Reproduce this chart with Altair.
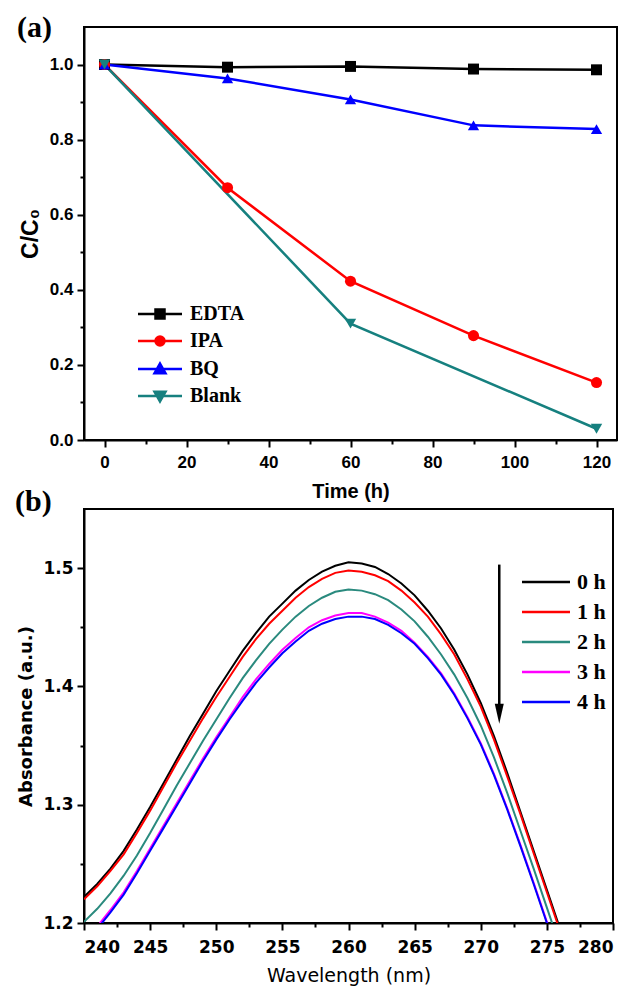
import altair as alt
import pandas as pd

# ---------------- Panel labels ----------------
panel_labels = ["(a)", "(b)"]

# ---------------- Panel (a) data ----------------
series_a = ["EDTA", "IPA", "BQ", "Blank"]
colors_a = ["#000000", "#FF0000", "#0000FF", "#16807F"]
time_h = [0, 30, 60, 90, 120]
edta = [1.000, 0.993, 0.995, 0.988, 0.986]
ipa = [1.000, 0.672, 0.423, 0.278, 0.153]
bq = [1.000, 0.963, 0.907, 0.838, 0.828]
blank_time = [0, 60, 120]
blank = [1.000, 0.310, 0.030]

# ---------------- Panel (b) data ----------------
series_b = ["0 h", "1 h", "2 h", "3 h", "4 h"]
colors_b = ["#000000", "#FF0000", "#2A8A7E", "#FF00FF", "#0000FF"]
wavelength = list(range(240, 277))
abs_0h = [1.222, 1.233, 1.246, 1.261, 1.279, 1.298, 1.318, 1.338, 1.358, 1.377,
          1.396, 1.413, 1.430, 1.445, 1.459, 1.470, 1.481, 1.490, 1.497, 1.502,
          1.505, 1.504, 1.501, 1.495, 1.487, 1.477, 1.464, 1.449, 1.431, 1.410,
          1.386, 1.358, 1.327, 1.294, 1.261, 1.228, 1.195]
abs_1h = [1.220, 1.231, 1.244, 1.258, 1.276, 1.295, 1.315, 1.335, 1.354, 1.373,
          1.391, 1.408, 1.425, 1.440, 1.453, 1.464, 1.475, 1.484, 1.491, 1.496,
          1.498, 1.497, 1.494, 1.489, 1.481, 1.471, 1.459, 1.444, 1.427, 1.406,
          1.383, 1.355, 1.324, 1.292, 1.259, 1.226, 1.193]
abs_2h = [1.201, 1.212, 1.225, 1.240, 1.257, 1.276, 1.296, 1.316, 1.335, 1.354,
          1.372, 1.390, 1.407, 1.422, 1.436, 1.448, 1.459, 1.468, 1.475, 1.480,
          1.482, 1.481, 1.478, 1.473, 1.465, 1.455, 1.442, 1.427, 1.410, 1.390,
          1.367, 1.340, 1.310, 1.278, 1.246, 1.213, 1.180]
abs_3h = [1.183, 1.197, 1.211, 1.226, 1.244, 1.263, 1.282, 1.301, 1.320, 1.339,
          1.357, 1.374, 1.391, 1.406, 1.419, 1.431, 1.441, 1.450, 1.456, 1.460,
          1.462, 1.462, 1.459, 1.454, 1.447, 1.437, 1.425, 1.411, 1.394, 1.374,
          1.352, 1.326, 1.297, 1.266, 1.234, 1.201, 1.168]
abs_4h = [1.181, 1.195, 1.209, 1.224, 1.242, 1.261, 1.280, 1.299, 1.318, 1.337,
          1.355, 1.372, 1.388, 1.403, 1.416, 1.428, 1.438, 1.447, 1.453, 1.457,
          1.459, 1.459, 1.457, 1.452, 1.445, 1.436, 1.424, 1.410, 1.393, 1.373,
          1.351, 1.325, 1.296, 1.265, 1.233, 1.200, 1.167]

# arrow annotation in panel (b)
arrow_x = [271.4]
arrow_y = [1.503]
arrow_y2 = [1.384]
arrowhead_y = [1.377]

# ticks
x_ticks_a = [0, 10, 20, 30, 40, 50, 60, 70, 80, 90, 100, 110, 120]
y_ticks_a = [0.0, 0.1, 0.2, 0.3, 0.4, 0.5, 0.6, 0.7, 0.8, 0.9, 1.0]
x_ticks_b = [240, 242.5, 245, 247.5, 250, 252.5, 255, 257.5, 260, 262.5, 265,
             267.5, 270, 272.5, 275, 277.5, 280]
y_ticks_b = [1.2, 1.25, 1.3, 1.35, 1.4, 1.45, 1.5]

# legend symbols: line through marker (custom paths)
legend_paths_a = [
    "M-4.4,0H4.4M-0.9,-0.9H0.9V0.9H-0.9ZM-0.5,-0.5H0.5V0.5H-0.5ZM-0.1,-0.1H0.1V0.1H-0.1Z",
    "M-4.4,0H4.4M0.9,0A0.9,0.9,0,1,1,-0.9,0A0.9,0.9,0,1,1,0.9,0ZM0.5,0A0.5,0.5,0,1,1,-0.5,0A0.5,0.5,0,1,1,0.5,0ZM0.1,0A0.1,0.1,0,1,1,-0.1,0A0.1,0.1,0,1,1,0.1,0Z",
    "M-4.4,0H4.4M0,-1.1L1.1,0.85L-1.1,0.85ZM0,-0.55L0.6,0.5L-0.6,0.5ZM0,-0.1L0.15,0.2L-0.15,0.2Z",
    "M-4.4,0H4.4M0,1.1L1.1,-0.85L-1.1,-0.85ZM0,0.55L0.6,-0.5L-0.6,-0.5ZM0,0.1L0.15,-0.2L-0.15,-0.2Z",
]
marker_shapes_a = ["square", "circle", "triangle-up", "triangle-down"]
marker_sizes_a = [120, 130, 190, 190]

rows_a = []
for name, ts, vs in [("EDTA", time_h, edta), ("IPA", time_h, ipa),
                     ("BQ", time_h, bq), ("Blank", blank_time, blank)]:
    for t, v in zip(ts, vs):
        rows_a.append({"series": name, "t": t, "c": v})
df_a = pd.DataFrame(rows_a)

rows_b = []
for name, vals in zip(series_b, [abs_0h, abs_1h, abs_2h, abs_3h, abs_4h]):
    for w, v in zip(wavelength, vals):
        rows_b.append({"series": name, "w": w, "a": v})
df_b = pd.DataFrame(rows_b)

df_arrow = pd.DataFrame({"w": arrow_x, "a": arrow_y, "a2": arrow_y2, "ah": arrowhead_y})

LABEL_FONT = "Liberation Sans"
SERIF = "Liberation Serif"


def panel_label(text, dx, dy):
    return alt.Chart(pd.DataFrame({"label": [text]})).mark_text(
        align="left", baseline="bottom", font=SERIF, fontWeight="bold", fontSize=30,
        color="black", x=dx, y=dy,
    ).encode(text="label:N")


# ---------------- Panel (a) ----------------
x_a = alt.X(
    "t:Q",
    scale=alt.Scale(domain=[-5, 125], nice=False, zero=False),
    axis=alt.Axis(
        values=x_ticks_a,
        labelExpr="datum.value % 20 == 0 ? datum.label : ''",
        tickSize={"condition": {"test": "datum.value % 20 == 0", "value": 7}, "value": 4},
        title="Time (h)", labelFont=LABEL_FONT, labelFontWeight="bold", labelFontSize=17,
        titleFont=LABEL_FONT, titleFontWeight="bold", titleFontSize=20,
        labelPadding=7, titlePadding=11,
    ),
)
y_a = alt.Y(
    "c:Q",
    scale=alt.Scale(domain=[0, 1.1], nice=False, zero=False),
    axis=alt.Axis(
        values=y_ticks_a, format=".1f",
        labelExpr="round(datum.value * 10) % 2 == 0 ? datum.label : ''",
        tickSize={"condition": {"test": "round(datum.value * 10) % 2 == 0", "value": 7}, "value": 4},
        title="C/C₀", labelFont=LABEL_FONT, labelFontWeight="bold", labelFontSize=17,
        titleFont=LABEL_FONT, titleFontWeight="bold", titleFontSize=23,
        labelPadding=4, titlePadding=7,
    ),
)
color_a = alt.Color("series:N", scale=alt.Scale(domain=series_a, range=colors_a), legend=None)

lines_a = alt.Chart(df_a).mark_line(strokeWidth=2.5, clip=True).encode(
    x=x_a, y=y_a, color=color_a, detail="series:N"
)
points_a = alt.Chart(df_a).mark_point(filled=True, opacity=1, clip=True).encode(
    x=x_a, y=y_a, color=color_a,
    shape=alt.Shape("series:N", scale=alt.Scale(domain=series_a, range=marker_shapes_a), legend=None),
    size=alt.Size("series:N", scale=alt.Scale(domain=series_a, range=marker_sizes_a), legend=None),
)
legend_props = dict(
    orient="none", legendX=66, legendY=277, title=None, symbolSize=100,
    symbolStrokeWidth=2.5, labelFont=SERIF, labelFontWeight="bold", labelFontSize=20,
    labelOffset=20, rowPadding=7, padding=0, labelColor="black", symbolOpacity=1,
)
legend_a = alt.Chart(df_a).transform_filter("false").mark_point(
    filled=False, strokeWidth=2.5, opacity=1
).encode(
    color=alt.Color("series:N", scale=alt.Scale(domain=series_a, range=colors_a),
                    legend=alt.Legend(**legend_props)),
    shape=alt.Shape("series:N", scale=alt.Scale(domain=series_a, range=legend_paths_a),
                    legend=alt.Legend(**legend_props)),
)

chart_a = alt.layer(
    lines_a, points_a, legend_a, panel_label(panel_labels[0], -67, 16)
).resolve_scale(
    color="independent", shape="independent", size="independent"
).properties(width=533, height=413)

# ---------------- Panel (b) ----------------
x_b_scale = alt.Scale(domain=[240, 280], nice=False, zero=False)
y_b_scale = alt.Scale(domain=[1.2, 1.55], nice=False, zero=False)
x_b_axis = alt.Axis(
    values=x_ticks_b, format="d",
    labelExpr="datum.value % 5 == 0 ? datum.label : ''",
    tickSize={"condition": {"test": "datum.value % 5 == 0", "value": 7}, "value": 4},
    title="Wavelength (nm)", labelFont="DejaVu Sans", labelFontWeight="bold", labelFontSize=17,
    titleFont="DejaVu Sans", titleFontWeight="normal", titleFontSize=19,
    labelPadding=9, titlePadding=11,
)
y_b_axis = alt.Axis(
    values=y_ticks_b, format=".1f",
    labelExpr="round(datum.value * 100) % 10 == 0 ? datum.label : ''",
    tickSize={"condition": {"test": "round(datum.value * 100) % 10 == 0", "value": 7}, "value": 4},
    title="Absorbance (a.u.)", labelFont="DejaVu Sans", labelFontWeight="bold", labelFontSize=17,
    titleFont="DejaVu Sans", titleFontWeight="bold", titleFontSize=18,
    labelPadding=4, titlePadding=7,
)
lines_b = alt.Chart(df_b).mark_line(strokeWidth=2, clip=True).encode(
    x=alt.X("w:Q", scale=x_b_scale, axis=x_b_axis),
    y=alt.Y("a:Q", scale=y_b_scale, axis=y_b_axis),
    color=alt.Color("series:N", scale=alt.Scale(domain=series_b, range=colors_b),
                    legend=alt.Legend(orient="none", legendX=451, legendY=62, title=None,
                                      symbolType="M-4,0H4", symbolSize=144, symbolStrokeWidth=2.5,
                                      labelFont=SERIF, labelFontWeight="bold", labelFontSize=22,
                                      labelOffset=20, rowPadding=8, padding=0, labelColor="black")),
    order="series:N",
)
arrow_rule = alt.Chart(df_arrow).mark_rule(strokeWidth=2.5, color="black").encode(
    x=alt.X("w:Q", scale=x_b_scale, axis=x_b_axis),
    y=alt.Y("a:Q", scale=y_b_scale, axis=y_b_axis),
    y2="a2:Q",
)
arrow_head = alt.Chart(df_arrow).mark_point(
    shape="M-0.45,-1L0.45,-1L0,1Z", filled=True, size=400, color="black", opacity=1
).encode(
    x=alt.X("w:Q", scale=x_b_scale, axis=x_b_axis),
    y=alt.Y("ah:Q", scale=y_b_scale, axis=y_b_axis),
)

chart_b = alt.layer(
    lines_b, arrow_rule, arrow_head, panel_label(panel_labels[1], -69, 8)
).properties(width=529, height=414)

chart = alt.vconcat(chart_a, chart_b, spacing=-16).resolve_scale(
    color="independent", shape="independent", size="independent"
).properties(
    padding={"left": 6, "top": 4, "right": 5, "bottom": 2},
    background="white",
).configure_view(
    stroke="black", strokeWidth=2
).configure_axis(
    domainColor="black", domainWidth=2, tickColor="black", tickWidth=2, grid=False,
    labelColor="black", titleColor="black",
)

chart.save("out.html", embed_options={"renderer": "svg", "actions": False})
